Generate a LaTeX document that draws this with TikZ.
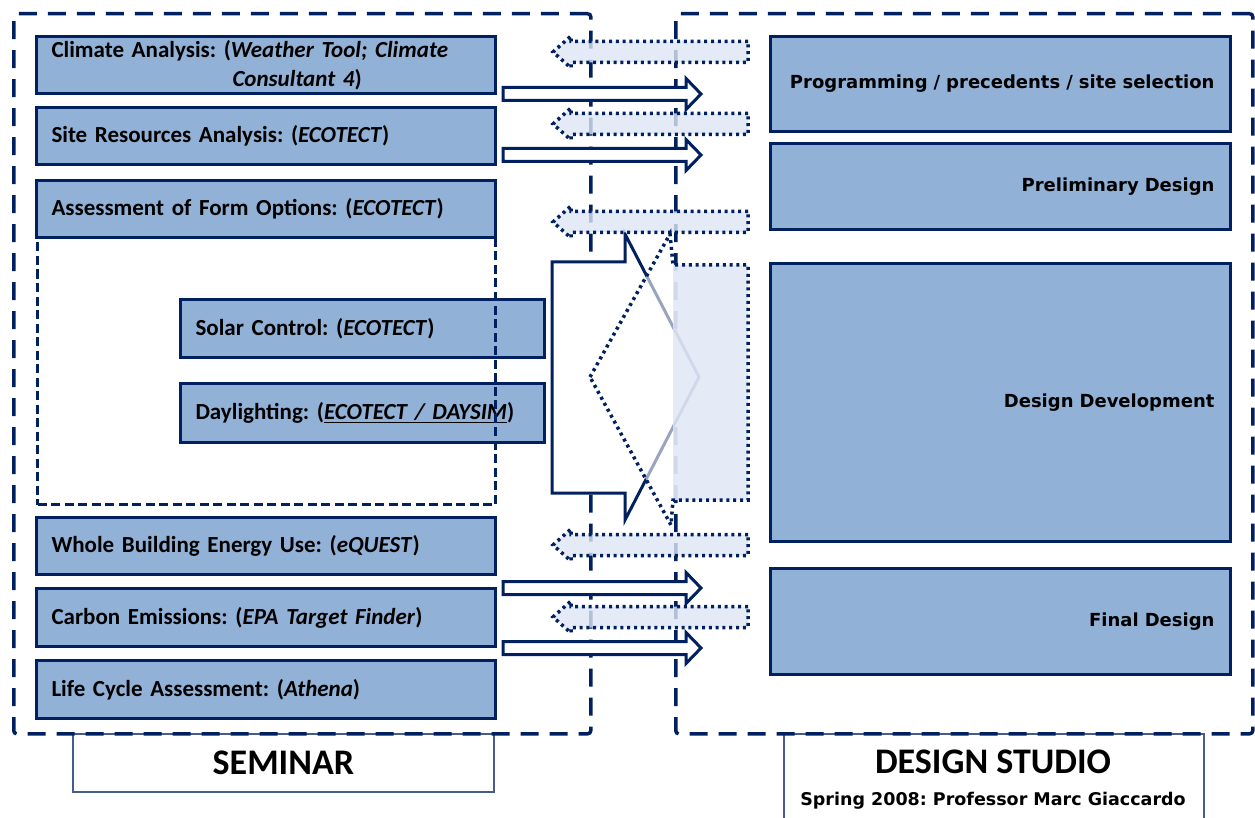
\documentclass[tikz,border=0pt]{standalone}
\usepackage{fontspec}
\setmainfont{Carlito}
\newfontfamily\widefont{DejaVu Sans}
\definecolor{navy}{RGB}{0,32,96}
\definecolor{boxblue}{RGB}{146,177,214}
\definecolor{paleblue}{RGB}{222,231,245}
\definecolor{labelline}{RGB}{70,92,140}
\begin{document}
\frenchspacing
\begin{tikzpicture}[x=1pt,y=-1pt,
  lbox/.style={draw=navy, line width=3pt, fill=boxblue, anchor=north west, inner xsep=15pt, inner ysep=0pt, align=left, font=\fontsize{23}{29}\selectfont\bfseries},
  rbox/.style={draw=navy, line width=3pt, fill=boxblue, anchor=north west, inner xsep=16pt, inner ysep=0pt, align=right, text width=428pt, minimum width=460pt, font=\widefont\bfseries\fontsize{18}{21}\selectfont},
  outerdash/.style={draw=navy, line width=3.5pt, dash pattern=on 18pt off 11pt, rounded corners=3pt, anchor=north west, inner sep=0pt},
  innerdash/.style={draw=navy, line width=3pt, dash pattern=on 9pt off 4.5pt, anchor=north west, inner sep=0pt},
  solidarrow/.style={draw=navy, line width=3pt, fill=white, line join=miter},
  dotline/.style={draw=navy, line width=3.5pt, dash pattern=on 3pt off 3.8pt},
  dotarrow/.style={dotline, fill=paleblue, fill opacity=0.8},
  labelbox/.style={draw=labelline, line width=1.8pt, fill=white, anchor=north west, inner sep=0pt}]
\clip (0,0) rectangle (1255,818);
\fill[white] (0,0) rectangle (1255,818);

% label boxes
\node[labelbox, minimum width=421pt, minimum height=58pt, font=\fontsize{36}{40}\selectfont\bfseries] (seminarlabel) at (72,733) {SEMINAR};
\node[labelbox, minimum width=420pt, minimum height=100pt] (studiolabel) at (783,733) {};
\node[font=\fontsize{36}{40}\selectfont\bfseries, inner sep=0pt] (studiotitle) at (993,762) {DESIGN STUDIO};
\node[font=\widefont\bfseries\fontsize{17.5}{21}\selectfont, inner sep=0pt] (studiosub) at (993,801) {Spring 2008: Professor Marc Giaccardo};

% outer dashed frames
\node[outerdash, minimum width=577pt, minimum height=720pt] (seminarframe) at (12,12) {};
\node[outerdash, minimum width=577pt, minimum height=720pt] (studioframe) at (674,12) {};

% left boxes
\node[lbox, text width=429pt, minimum height=57pt] (climate) at (35,35)
  {Climate Analysis: (\textit{Weather Tool; Climate}\\\hspace*{181pt}\textit{Consultant 4})};
\node[lbox, text width=429pt, minimum height=57pt] (site) at (35,106) {Site Resources Analysis: (\textit{ECOTECT})};
\node[lbox, text width=334pt, minimum height=58pt] (solar) at (179,298) {Solar Control: (\textit{ECOTECT})};
\node[lbox, text width=334pt, minimum height=59pt] (daylight) at (179,382) {Daylighting: (\underline{\textit{ECOTECT / DAYSIM}})};
\node[innerdash, minimum width=458pt, minimum height=267pt] (formframe) at (36,236) {};
\node[lbox, text width=429pt, minimum height=57pt] (form) at (35,179) {Assessment of Form Options: (\textit{ECOTECT})};
\node[lbox, text width=429pt, minimum height=57pt] (whole) at (35,516) {Whole Building Energy Use: (\textit{eQUEST})};
\node[lbox, text width=429pt, minimum height=58pt] (carbon) at (35,587) {Carbon Emissions: (\textit{EPA Target Finder})};
\node[lbox, text width=429pt, minimum height=58pt] (life) at (35,659) {Life Cycle Assessment: (\textit{Athena})};

% right boxes
\node[rbox, minimum height=95pt] (prog) at (769,35) {Programming / precedents / site selection};
\node[rbox, minimum height=86pt] (prelim) at (769,142) {Preliminary Design};
\node[rbox, minimum height=278pt] (dd) at (769,262) {Design Development};
\node[rbox, minimum height=106pt] (final) at (769,567) {Final Design};

% small solid arrows
\foreach \c in {94,155,588,648}
  \draw[solidarrow] (503,\c-6.5) -- (686,\c-6.5) -- (686,\c-15.5) -- (701,\c) -- (686,\c+15.5) -- (686,\c+6.5) -- (503,\c+6.5) -- cycle;

% big solid arrow
\draw[solidarrow] (552,262) -- (625,262) -- (625,234) -- (699,377) -- (625,520) -- (625,493) -- (552,493) -- cycle;

% small dotted arrows
\foreach \c in {52,124,222,545,617}
  \draw[dotarrow] (748,\c-10.5) -- (571,\c-10.5) -- (571,\c-16) -- (553,\c) -- (571,\c+16) -- (571,\c+10.5) -- (748,\c+10.5) -- cycle;

% big dotted arrow
\fill[white, fill opacity=0.6] (590,377) -- (670,234) -- (673,265) -- (748,265) -- (748,500) -- (673,500) -- (671,525) -- cycle;
\fill[paleblue, fill opacity=0.8] (673,265) rectangle (748,500);
\draw[dotline] (590,377) -- (670,234) -- (673,265) -- (748,265) -- (748,500) -- (673,500) -- (671,525) -- cycle;
\end{tikzpicture}
\end{document}
